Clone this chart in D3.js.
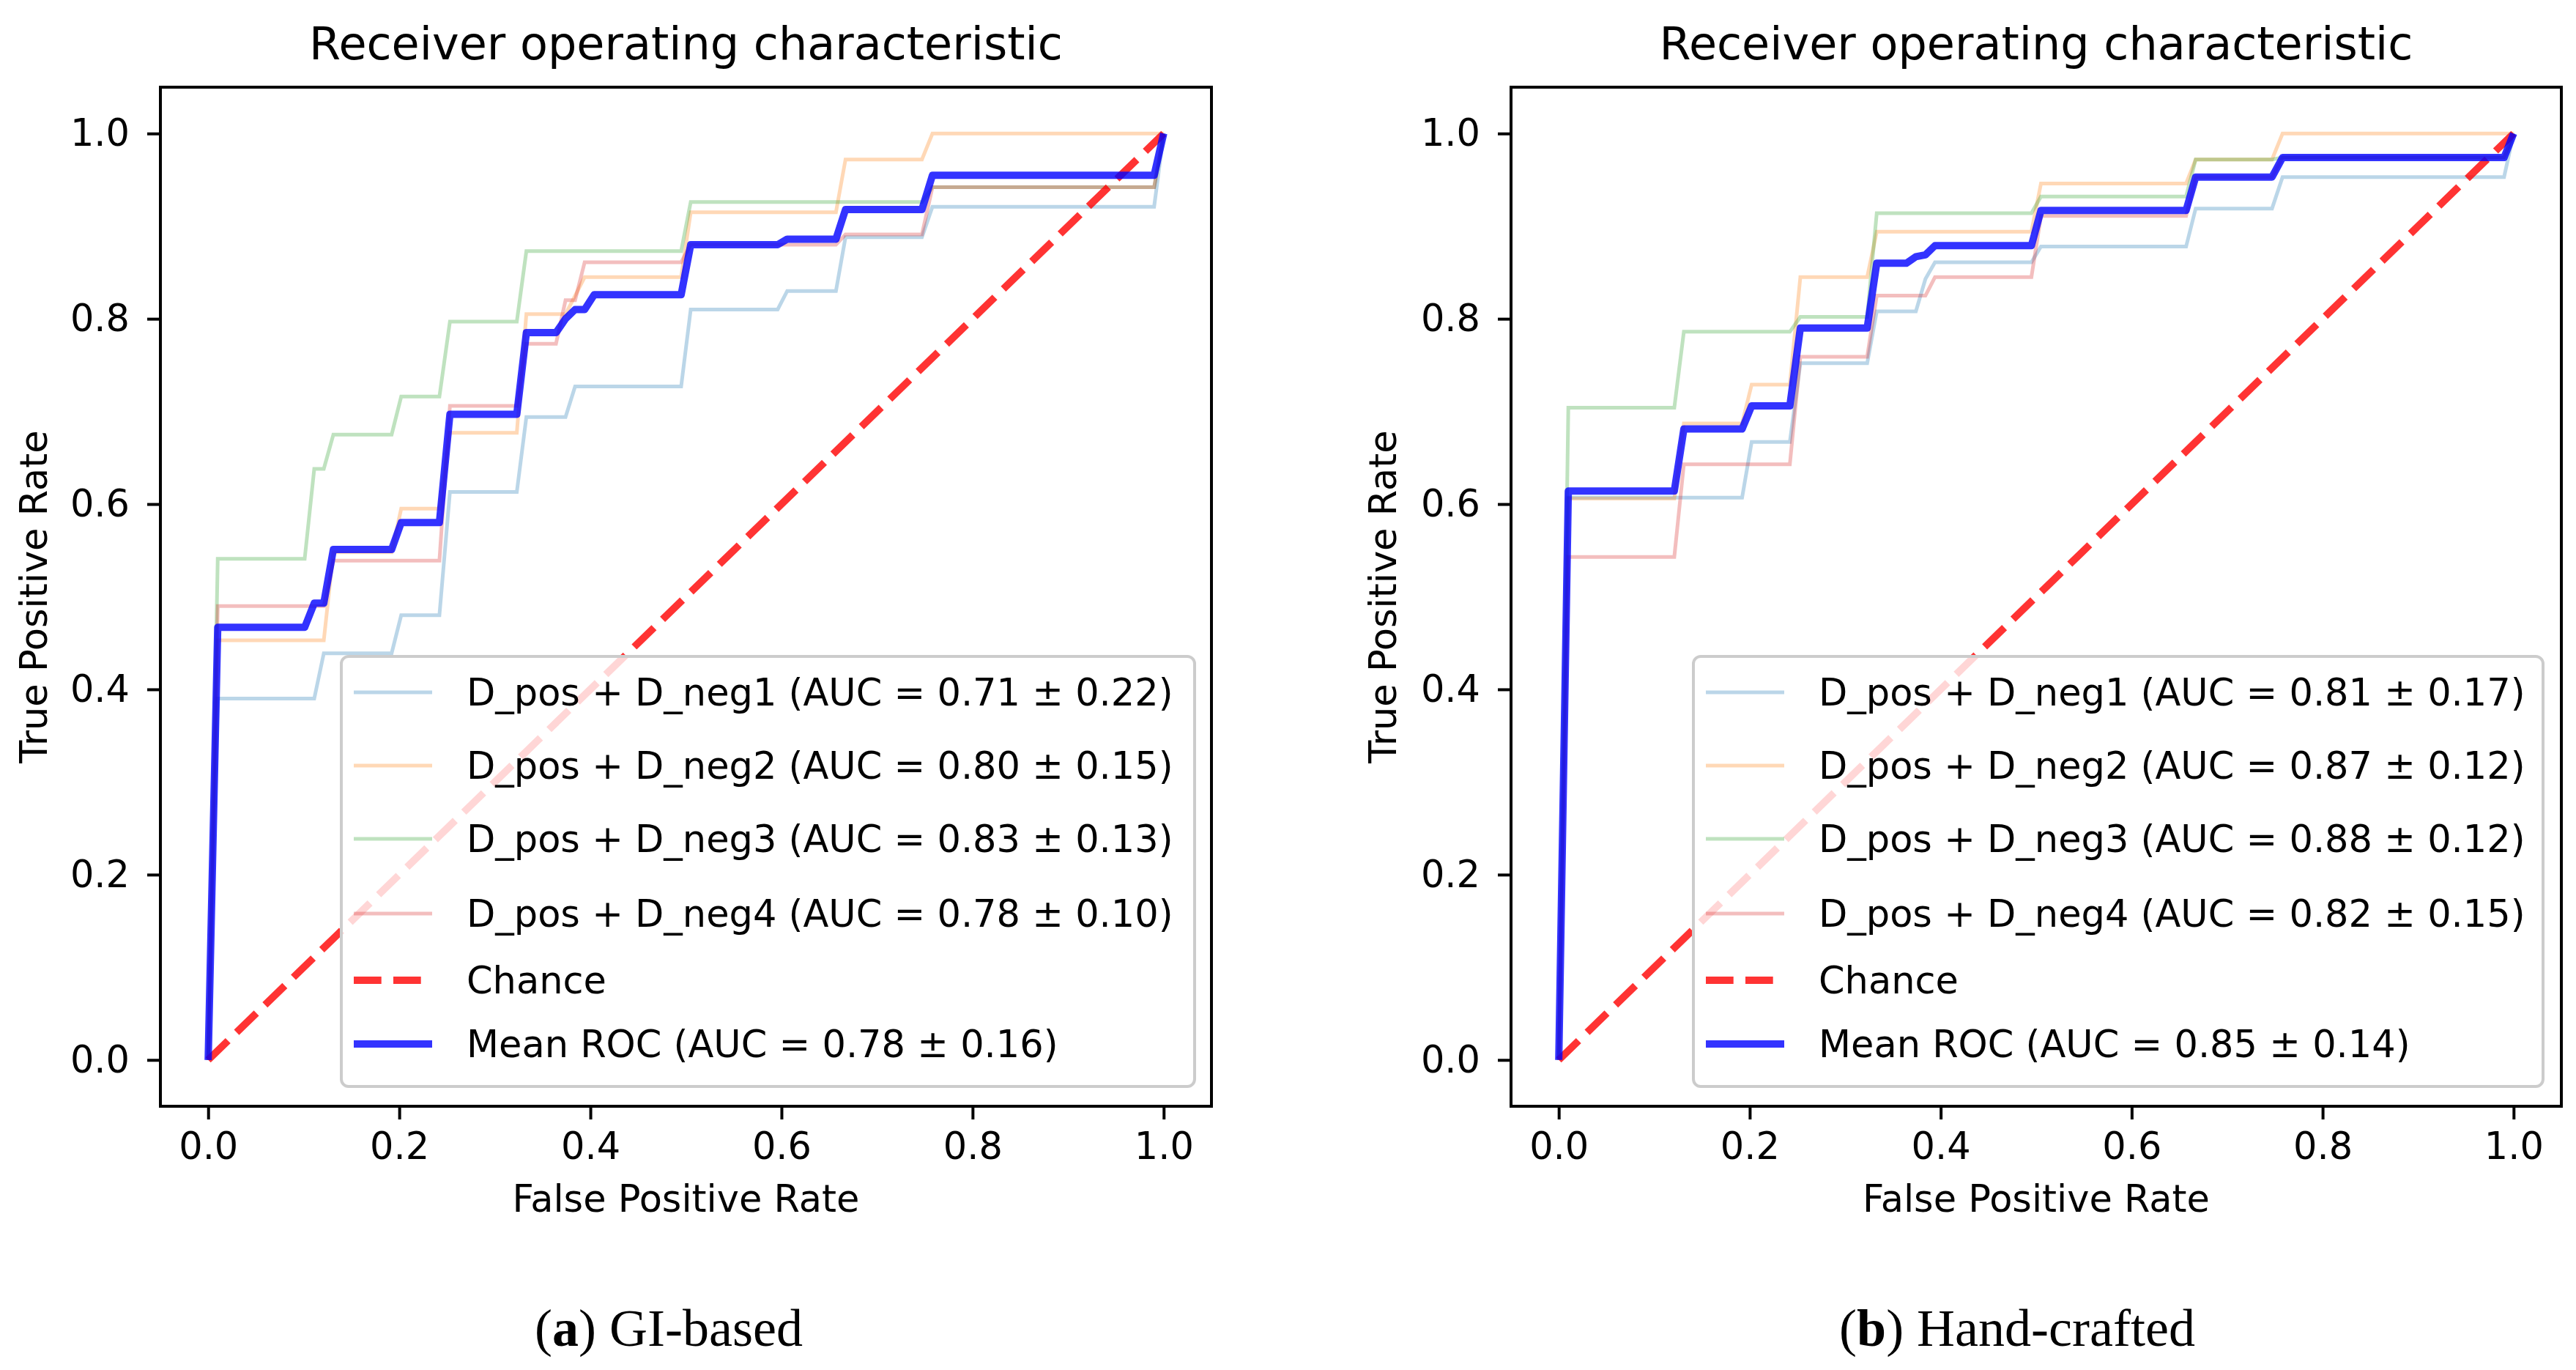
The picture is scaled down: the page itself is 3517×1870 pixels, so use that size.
<!DOCTYPE html>
<html>
<head>
<meta charset="utf-8">
<script src="https://cdn.jsdelivr.net/npm/d3@7"></script>
<style>
  body { margin: 0; background: #fff; }
  text { font-family: "DejaVu Sans", sans-serif; }
</style>
</head>
<body>
<svg id="chart"></svg>
<script>
// ticks shared by both panels
const ticks = [0, 0.2, 0.4, 0.6, 0.8, 1.0];
const tickLabels = ["0.0", "0.2", "0.4", "0.6", "0.8", "1.0"];
const chance = [[0, 0], [1, 1]];

// (a) GI-based, [fpr, tpr]
const giNeg1 = [[0,0],[0.01,0.39],[0.111,0.39],[0.121,0.439],[0.192,0.439],[0.202,0.48],[0.242,0.48],[0.253,0.613],[0.323,0.613],[0.333,0.694],[0.374,0.694],[0.384,0.727],[0.495,0.727],[0.505,0.81],[0.596,0.81],[0.606,0.83],[0.657,0.83],[0.667,0.888],[0.747,0.888],[0.758,0.921],[0.99,0.921],[1,1]];
const giNeg2 = [[0,0],[0.01,0.453],[0.121,0.453],[0.131,0.548],[0.192,0.548],[0.202,0.595],[0.242,0.595],[0.253,0.677],[0.323,0.677],[0.333,0.805],[0.374,0.805],[0.384,0.825],[0.394,0.845],[0.495,0.845],[0.505,0.915],[0.657,0.915],[0.667,0.972],[0.747,0.972],[0.758,1.0],[1,1]];
const giNeg3 = [[0,0],[0.01,0.541],[0.101,0.541],[0.111,0.638],[0.121,0.638],[0.131,0.675],[0.192,0.675],[0.202,0.716],[0.242,0.716],[0.253,0.797],[0.323,0.797],[0.333,0.873],[0.495,0.873],[0.505,0.926],[0.747,0.926],[0.758,0.942],[0.99,0.942],[1,1]];
const giNeg4 = [[0,0],[0.01,0.49],[0.121,0.49],[0.131,0.539],[0.242,0.539],[0.253,0.706],[0.323,0.706],[0.333,0.773],[0.364,0.773],[0.374,0.82],[0.384,0.82],[0.394,0.861],[0.495,0.861],[0.505,0.88],[0.657,0.88],[0.667,0.891],[0.747,0.891],[0.758,0.942],[0.99,0.942],[1,1]];
const giMean = [[0,0],[0.01,0.467],[0.101,0.467],[0.111,0.493],[0.121,0.493],[0.131,0.551],[0.192,0.551],[0.202,0.58],[0.242,0.58],[0.253,0.697],[0.323,0.697],[0.333,0.785],[0.364,0.785],[0.374,0.80],[0.384,0.81],[0.394,0.81],[0.404,0.826],[0.495,0.826],[0.505,0.88],[0.596,0.88],[0.606,0.886],[0.657,0.886],[0.667,0.918],[0.747,0.918],[0.758,0.955],[0.99,0.955],[1,1]];
const giLabels = [
  "D_pos + D_neg1 (AUC = 0.71 \u00b1 0.22)",
  "D_pos + D_neg2 (AUC = 0.80 \u00b1 0.15)",
  "D_pos + D_neg3 (AUC = 0.83 \u00b1 0.13)",
  "D_pos + D_neg4 (AUC = 0.78 \u00b1 0.10)",
  "Chance",
  "Mean ROC (AUC = 0.78 \u00b1 0.16)"
];

// (b) Hand-crafted
const hcNeg1 = [[0,0],[0.01,0.607],[0.192,0.607],[0.202,0.667],[0.242,0.667],[0.253,0.752],[0.323,0.752],[0.333,0.808],[0.374,0.808],[0.384,0.843],[0.394,0.861],[0.495,0.861],[0.505,0.878],[0.657,0.878],[0.667,0.919],[0.747,0.919],[0.758,0.953],[0.99,0.953],[1,1]];
const hcNeg2 = [[0,0],[0.01,0.606],[0.121,0.606],[0.131,0.687],[0.192,0.687],[0.202,0.729],[0.242,0.729],[0.253,0.845],[0.323,0.845],[0.333,0.894],[0.495,0.894],[0.505,0.946],[0.657,0.946],[0.667,0.972],[0.747,0.972],[0.758,1.0],[1,1]];
const hcNeg3 = [[0,0],[0.01,0.704],[0.121,0.704],[0.131,0.786],[0.242,0.786],[0.253,0.802],[0.323,0.802],[0.333,0.914],[0.495,0.914],[0.505,0.932],[0.657,0.932],[0.667,0.972],[0.747,0.972],[0.758,0.974],[0.99,0.974],[1,1]];
const hcNeg4 = [[0,0],[0.01,0.543],[0.121,0.543],[0.131,0.643],[0.242,0.643],[0.253,0.759],[0.323,0.759],[0.333,0.825],[0.384,0.825],[0.394,0.845],[0.495,0.845],[0.505,0.911],[0.657,0.911],[0.667,0.953],[0.747,0.953],[0.758,0.974],[0.99,0.974],[1,1]];
const hcMean = [[0,0],[0.01,0.614],[0.121,0.614],[0.131,0.681],[0.192,0.681],[0.202,0.706],[0.242,0.706],[0.253,0.79],[0.323,0.79],[0.333,0.86],[0.364,0.86],[0.374,0.867],[0.384,0.869],[0.394,0.879],[0.495,0.879],[0.505,0.917],[0.657,0.917],[0.667,0.953],[0.747,0.953],[0.758,0.974],[0.99,0.974],[1,1]];
const hcLabels = [
  "D_pos + D_neg1 (AUC = 0.81 \u00b1 0.17)",
  "D_pos + D_neg2 (AUC = 0.87 \u00b1 0.12)",
  "D_pos + D_neg3 (AUC = 0.88 \u00b1 0.12)",
  "D_pos + D_neg4 (AUC = 0.82 \u00b1 0.15)",
  "Chance",
  "Mean ROC (AUC = 0.85 \u00b1 0.14)"
];

const foldColors = ["#1f77b4", "#ff7f0e", "#2ca02c", "#d62728"];

const W = 3517, H = 1870;
const axTop = 119, axBottom = 1510;
const fs = 51;

const panels = [
  { left: 219, right: 1654, folds: [giNeg1, giNeg2, giNeg3, giNeg4], mean: giMean, labels: giLabels,
    legendX: 466, legendW: 1165, yLabelX: 64, tag: "a", caption: " GI-based", captionX: 913 },
  { left: 2063, right: 3497, folds: [hcNeg1, hcNeg2, hcNeg3, hcNeg4], mean: hcMean, labels: hcLabels,
    legendX: 2312, legendW: 1160, yLabelX: 1906, tag: "b", caption: " Hand-crafted", captionX: 2754 }
];

const svg = d3.select("#chart").attr("width", W).attr("height", H);
svg.append("rect").attr("width", W).attr("height", H).attr("fill", "#fff");

function drawPanel(p, k) {
  const g = svg.append("g");
  const x = d3.scaleLinear().domain([-0.05, 1.05]).range([p.left, p.right]);
  const y = d3.scaleLinear().domain([-0.05, 1.05]).range([axBottom, axTop]);

  g.append("clipPath").attr("id", "clip" + k)
    .append("rect").attr("x", p.left).attr("y", axTop)
    .attr("width", p.right - p.left).attr("height", axBottom - axTop);

  const line = d3.line().x(d => x(d[0])).y(d => y(d[1]));
  const plot = g.append("g").attr("clip-path", `url(#clip${k})`);

  p.folds.forEach((s, i) => {
    plot.append("path").datum(s).attr("d", line)
      .attr("fill", "none").attr("stroke", foldColors[i])
      .attr("stroke-opacity", 0.3).attr("stroke-width", 5);
  });
  plot.append("path").datum(chance).attr("d", line)
    .attr("fill", "none").attr("stroke", "#ff0000").attr("stroke-opacity", 0.8)
    .attr("stroke-width", 10).attr("stroke-dasharray", "37.7,16.3");
  plot.append("path").datum(p.mean).attr("d", line)
    .attr("fill", "none").attr("stroke", "#0000ff").attr("stroke-opacity", 0.8)
    .attr("stroke-width", 10).attr("stroke-linejoin", "round");

  // axes
  const styleAxis = a => {
    a.select(".domain").remove();
    a.attr("font-family", "DejaVu Sans").attr("font-size", fs);
    a.selectAll("line").attr("stroke", "#000").attr("stroke-width", 4);
    a.selectAll("text").attr("fill", "#000");
  };
  g.append("g").attr("transform", `translate(0,${axBottom})`)
    .call(d3.axisBottom(x).tickValues(ticks).tickFormat((d, i) => tickLabels[i]).tickSize(18).tickPadding(18))
    .call(styleAxis);
  g.append("g").attr("transform", `translate(${p.left},0)`)
    .call(d3.axisLeft(y).tickValues(ticks).tickFormat((d, i) => tickLabels[i]).tickSize(18).tickPadding(24))
    .call(styleAxis);

  g.append("rect").attr("x", p.left).attr("y", axTop)
    .attr("width", p.right - p.left).attr("height", axBottom - axTop)
    .attr("fill", "none").attr("stroke", "#000").attr("stroke-width", 4);

  const cx = (p.left + p.right) / 2;
  g.append("text").attr("x", cx).attr("y", 81).attr("text-anchor", "middle")
    .attr("font-size", 62).text("Receiver operating characteristic");
  g.append("text").attr("x", cx).attr("y", 1654).attr("text-anchor", "middle")
    .attr("font-size", fs).text("False Positive Rate");
  g.append("text").attr("transform", `translate(${p.yLabelX},${(axTop + axBottom) / 2}) rotate(-90)`)
    .attr("text-anchor", "middle").attr("font-size", fs).text("True Positive Rate");

  // legend
  const lgTop = 896, lgH = 587;
  const rowY = [49, 149, 249, 351, 442, 529];
  const lg = g.append("g").attr("transform", `translate(${p.legendX},${lgTop})`);
  lg.append("rect").attr("width", p.legendW).attr("height", lgH).attr("rx", 10)
    .attr("fill", "#fff").attr("fill-opacity", 0.8)
    .attr("stroke", "#cccccc").attr("stroke-width", 4);
  p.labels.forEach((lab, i) => {
    const h = lg.append("line").attr("x1", 17).attr("x2", 124)
      .attr("y1", rowY[i]).attr("y2", rowY[i]);
    if (i < 4) {
      h.attr("stroke", foldColors[i]).attr("stroke-opacity", 0.3).attr("stroke-width", 5);
    } else if (i === 4) {
      h.attr("stroke", "#ff0000").attr("stroke-opacity", 0.8).attr("stroke-width", 10)
        .attr("stroke-dasharray", "37.7,16.3");
    } else {
      h.attr("stroke", "#0000ff").attr("stroke-opacity", 0.8).attr("stroke-width", 10);
    }
    lg.append("text").attr("x", 171).attr("y", rowY[i] + 18)
      .attr("font-size", fs).attr("fill", "#000").text(lab);
  });

  // caption
  const cap = svg.append("text").attr("x", p.captionX).attr("y", 1837)
    .attr("text-anchor", "middle").attr("font-size", 72)
    .style("font-family", "'Liberation Serif', serif");
  cap.append("tspan").text("(");
  cap.append("tspan").attr("font-weight", "bold").text(p.tag);
  cap.append("tspan").text(")" + p.caption);
}

panels.forEach(drawPanel);
</script>
</body>
</html>
